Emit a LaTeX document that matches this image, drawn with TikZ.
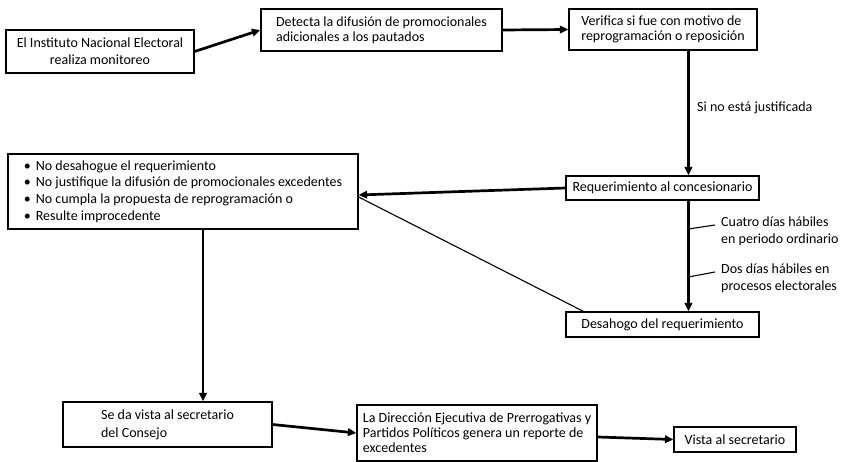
\documentclass[tikz,border=0pt]{standalone}
\usepackage{fontspec}
\setmainfont{Carlito}
\usetikzlibrary{arrows.meta}
\newcommand{\fs}[1]{\fontsize{14bp}{#1bp}\selectfont}
\begin{document}
\begin{tikzpicture}[x=1bp,y=-1bp,
  box/.style={draw, line width=1.2bp, inner sep=0pt, align=left},
  arr/.style={line width=2.7bp, -{Triangle[length=8.5bp,width=7.5bp]}},
  thin/.style={line width=1.1bp},
  lab/.style={font=\fs{17}, inner sep=0pt, align=left, anchor=west}]
\useasboundingbox (0,0) rectangle (844,462);
% boxes
\node[box, font=\fs{17}, align=center, minimum width=188bp, minimum height=43bp] (n1) at (100,51.5) {El Instituto Nacional Electoral\\realiza monitoreo};
\node[box, font=\fs{15}, minimum width=241bp, minimum height=42bp] (n2) at (381.5,30) {Detecta la difusión de promocionales\\adicionales a los pautados};
\node[box, font=\fs{15}, minimum width=188bp, minimum height=41bp] (n3) at (663,29.5) {Verifica si fue con motivo de\\reprogramación o reposición};
\node[box, font=\fs{17}, align=center, minimum width=193bp, minimum height=24bp] (req) at (662.5,188) {Requerimiento al concesionario};
\node[box, font=\fs{16.7}, minimum width=350bp, minimum height=75bp] (bul) at (183,191.5) {\makebox[12bp][l]{•}No desahogue el requerimiento\\\makebox[12bp][l]{•}No justifique la difusión de promocionales excedentes\\\makebox[12bp][l]{•}No cumpla la propuesta de reprogramación o\\\makebox[12bp][l]{•}Resulte improcedente};
\node[box, font=\fs{17}, align=center, minimum width=193bp, minimum height=25bp] (des) at (662.5,324.5) {Desahogo del requerimiento};
\node[box, font=\fs{18}, minimum width=209bp, minimum height=45bp] (seda) at (167.5,424.5) {Se da vista al secretario\\del Consejo};
\node[box, font=\fs{15}, minimum width=240bp, minimum height=56bp] (dir) at (477,433) {La Dirección Ejecutiva de Prerrogativas y\\Partidos Políticos genera un reporte de\\excedentes};
\node[box, font=\fs{17}, align=center, minimum width=122bp, minimum height=25bp] (vis) at (735,439.5) {Vista al secretario};
% labels
\node[lab] (l1) at (697,108) {Si no está justificada};
\node[lab] (l2) at (721,231) {Cuatro días hábiles\\en periodo ordinario};
\node[lab] (l3) at (721,278.5) {Dos días hábiles en\\procesos electorales};
% helper coordinates
\coordinate (vx) at (688.5,0);
\coordinate (vy) at (203,0);
\coordinate (t1) at (688.5,229);
\coordinate (t1e) at (715,225);
\coordinate (t2) at (688.5,277);
\coordinate (t2e) at (715,272);
% connectors
\draw[arr] (n1.east) -- (n2.west);
\draw[arr] (n2.east) -- (n3.west);
\draw[arr] (n3.south -| vx) -- (req.north -| vx);
\draw[arr] (req.west) -- ([yshift=-3.5bp]bul.east);
\draw[thin] ([yshift=-5.5bp]bul.east) -- ([xshift=18bp]des.north west);
\draw[arr] (req.south -| vx) -- (des.north -| vx);
\draw[thin] (t1) -- (t1e);
\draw[thin] (t2) -- (t2e);
\draw[arr] (bul.south -| vy) -- (seda.north -| vy);
\draw[arr] (seda.east) -- (dir.west);
\draw[arr] ([yshift=-4bp]dir.east) -- (vis.west);
\end{tikzpicture}
\end{document}
